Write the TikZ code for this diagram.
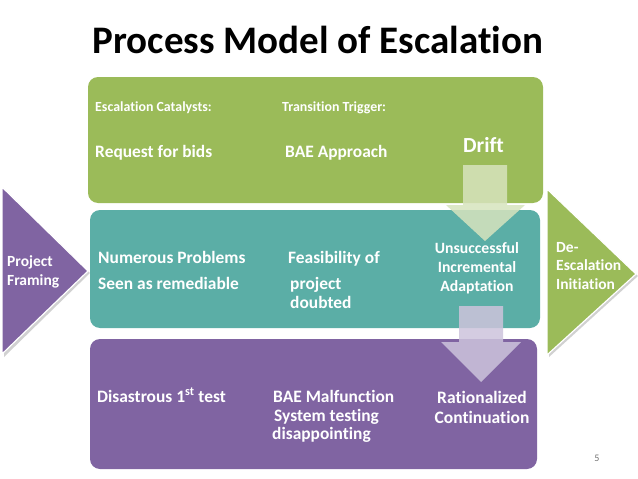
\documentclass[tikz,border=0pt]{standalone}
\usepackage{fontspec}
\setmainfont{Carlito}[Ligatures=NoCommon]
\definecolor{boxgreen}{RGB}{155,187,89}
\definecolor{boxteal}{RGB}{91,174,166}
\definecolor{boxpurple}{RGB}{128,100,162}
\definecolor{arrgreen}{RGB}{215,228,190}
\definecolor{arrlilac}{RGB}{205,196,220}
\tikzset{
  stagebox/.style={rounded corners=10pt},
  lbl/.style={anchor=base west, inner sep=0pt, text=white, font=\bfseries\fontsize{17.4}{20}\selectfont},
  small lbl/.style={lbl, font=\bfseries\fontsize{13.9}{16}\selectfont},
  side lbl/.style={anchor=base west, inner sep=0pt, text=white, align=left,
    font=\bfseries\fontsize{15.5}{18.5}\selectfont},
  mid lbl/.style={anchor=base, inner sep=0pt, text=white, align=center}
}

\begin{document}
\begin{tikzpicture}[x=1pt, y=-1pt]
  \useasboundingbox (0,0) rectangle (638,479);
  \fill[white] (0,0) rectangle (638,479);

  % title
  \node[anchor=base, inner sep=0pt, font=\bfseries\fontsize{39}{44}\selectfont] (title)
       at (318,53) {Process Model of Escalation};

  % the three stages
  \fill[boxgreen, stagebox]  (88,77)  rectangle (543,203);
  \fill[boxteal, stagebox]   (90,210) rectangle (540,328);
  \fill[boxpurple, stagebox] (90,339) rectangle (537,469);

  % side triangles, with a soft shadow
  \fill[black!18] (4,190) -- (90,273) -- (4,357) -- cycle;
  \fill[boxpurple, draw=white, line width=1.2pt] (2,187) -- (88,271) -- (2,354) -- cycle;
  \fill[black!18] (549,192) -- (638,276) -- (549,357) -- cycle;
  \fill[boxgreen, draw=white, line width=1.2pt] (547,189) -- (636,274) -- (547,355) -- cycle;

  % block arrows between stages
  \fill[arrgreen, opacity=0.85] (463,165) -- (507,165) -- (507,205) -- (525,205)
       -- (485,241) -- (446,205) -- (463,205) -- cycle;
  \fill[arrlilac, opacity=0.85] (459,306) -- (503,306) -- (503,342) -- (521,342)
       -- (481,382) -- (441,342) -- (459,342) -- cycle;

  % green stage
  \node[small lbl] (catalyst) at (95,111)  {Escalation Catalysts:};
  \node[small lbl] (trigger)  at (282,111) {Transition Trigger:};
  \node[lbl] (bids)     at (95,157)  {Request for bids};
  \node[lbl] (approach) at (285,157) {BAE Approach};
  \node[lbl, font=\bfseries\fontsize{21.5}{25}\selectfont] (drift) at (463,152) {Drift};

  % teal stage
  \node[lbl] (problems) at (98,263)  {Numerous Problems};
  \node[lbl] (remedy)   at (98,289)  {Seen as remediable};
  \node[lbl] (feasible) at (288,263) {Feasibility of};
  \node[lbl] (project)  at (290,289) {project};
  \node[lbl] (doubted)  at (290,308) {doubted};
  \node[mid lbl, font=\bfseries\fontsize{15.7}{19}\selectfont] (adapt) at (477,291)
       {Unsuccessful\\Incremental\\Adaptation};

  % purple stage
  \node[lbl] (first)   at (97,402)  {Disastrous 1\textsuperscript{st} test};
  \node[lbl] (malfunc) at (273,402) {BAE Malfunction};
  \node[lbl] (systest) at (274,421) {System testing};
  \node[lbl] (disapp)  at (272,439) {disappointing};
  \node[mid lbl, font=\bfseries\fontsize{17.5}{19.5}\selectfont] (ration) at (482,423)
       {Rationalized\\Continuation};

  % side labels
  \node[side lbl] (framing)  at (7,285)   {Project\\Framing};
  \node[side lbl] (deescal)  at (556,289) {De-\\Escalation\\Initiation};

  % page number
  \node[text=black!55, font=\fontsize{10}{12}\selectfont] (pageno) at (597,458) {5};
\end{tikzpicture}
\end{document}
